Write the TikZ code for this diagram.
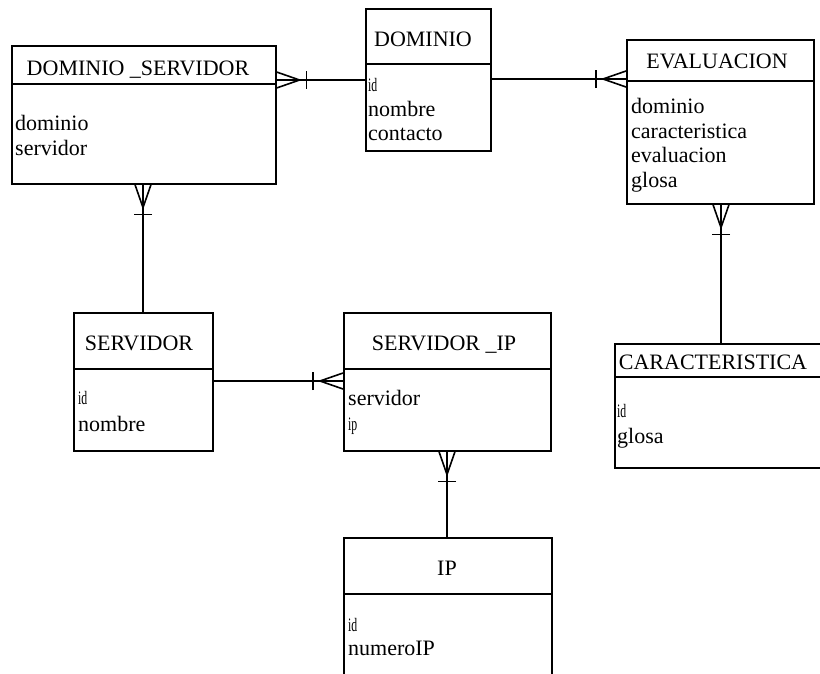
\documentclass[tikz,border=0pt]{standalone}
\usepackage{fontspec}
\setmainfont{Liberation Serif}
\usetikzlibrary{calc}

% condensed key marker used for primary keys
\newcommand{\pkey}[1]{{\fontsize{19}{19}\selectfont\scalebox{0.62}[1]{#1}}}

\tikzset{
  entity/.style={draw, line width=1.6pt, rectangle, anchor=north west, inner sep=0pt},
  rel/.style={line width=1.6pt},
  title/.style={anchor=base, inner sep=0pt, font=\fontsize{22}{22}\selectfont},
  attr/.style={anchor=base west, inner sep=0pt, font=\fontsize{22}{22}\selectfont},
  pics/crowfoot/.style={code={
    \draw[rel] (0,8) -- (23,0) -- (0,-8);
    \draw[rel] (30,-9) -- (30,9);
  }}
}

\begin{document}
\begin{tikzpicture}[x=1pt,y=-1pt]
\useasboundingbox (0,0) rectangle (820,673);
\fill[white] (0,0) rectangle (820,673);

% ---- entity boxes ----
\node[entity, minimum width=264pt, minimum height=138pt] (ds)   at (11,45)   {};
\node[entity, minimum width=125pt, minimum height=142pt] (dom)  at (365,8)   {};
\node[entity, minimum width=187pt, minimum height=164pt] (ev)   at (626,39)  {};
\node[entity, minimum width=139pt, minimum height=138pt] (srv)  at (73,312)  {};
\node[entity, minimum width=207pt, minimum height=138pt] (sip)  at (343,312) {};
\node[entity, minimum width=230pt, minimum height=124pt] (car)  at (614,343) {};
\node[entity, minimum width=208pt, minimum height=160pt] (ip)   at (343,537) {};

% ---- header dividers ----
\draw[rel] ($(ds.north west)+(0,39)$)  -- ($(ds.north east)+(0,39)$);
\draw[rel] ($(dom.north west)+(0,56)$) -- ($(dom.north east)+(0,56)$);
\draw[rel] ($(ev.north west)+(0,42)$)  -- ($(ev.north east)+(0,42)$);
\draw[rel] ($(srv.north west)+(0,57)$) -- ($(srv.north east)+(0,57)$);
\draw[rel] ($(sip.north west)+(0,57)$) -- ($(sip.north east)+(0,57)$);
\draw[rel] ($(car.north west)+(0,34)$) -- ($(car.north east)+(0,34)$);
\draw[rel] ($(ip.north west)+(0,57)$)  -- ($(ip.north east)+(0,57)$);

% ---- titles ----
\node[title] (tds)  at (138,75)  {DOMINIO \_SERVIDOR};
\node[title] (tdom) at (423,46)  {DOMINIO};
\node[title] (tev)  at (717,68)  {EVALUACION};
\node[title] (tsrv) at (139,350) {SERVIDOR};
\node[title] (tsip) at (444,350) {SERVIDOR \_IP};
\node[title] (tcar) at (713,369) {CARACTERISTICA};
\node[title] (tip)  at (447,575) {IP};

% ---- attributes ----
\node[attr] (ds1) at (15,130)  {dominio};
\node[attr] (ds2) at (15,155)  {servidor};

\node[attr] (dm1) at (368,91)  {\pkey{id}};
\node[attr] (dm2) at (368,116) {nombre};
\node[attr] (dm3) at (368,140) {contacto};

\node[attr] (ev1) at (631,113) {dominio};
\node[attr] (ev2) at (631,138) {caracteristica};
\node[attr] (ev3) at (631,162) {evaluacion};
\node[attr] (ev4) at (631,187) {glosa};

\node[attr] (sv1) at (78,404)  {\pkey{id}};
\node[attr] (sv2) at (78,431)  {nombre};

\node[attr] (si1) at (348,405) {servidor};
\node[attr] (si2) at (348,430) {\pkey{ip}};

\node[attr] (ca1) at (617,417) {\pkey{id}};
\node[attr] (ca2) at (617,443) {glosa};

\node[attr] (ip1) at (348,631) {\pkey{id}};
\node[attr] (ip2) at (348,655) {numeroIP};

% ---- relationships ----
% DOMINIO_SERVIDOR >--| DOMINIO
\coordinate (r1) at ($(ds.north east)+(0,35)$);
\draw[rel] (r1) -- (r1 -| dom.west);
\pic at (r1) {crowfoot};

% DOMINIO |--< EVALUACION
\coordinate (r2) at ($(ev.north west)+(0,40)$);
\draw[rel] (r2 -| dom.east) -- (r2);
\pic[rotate=180] at (r2) {crowfoot};

% DOMINIO_SERVIDOR >--| SERVIDOR
\coordinate (r3) at (ds.south -| 143,0);
\draw[rel] (r3) -- (r3 |- srv.north);
\pic[rotate=-90] at (r3) {crowfoot};

% SERVIDOR |--< SERVIDOR_IP
\coordinate (r4) at ($(sip.north west)+(0,69)$);
\draw[rel] (r4 -| srv.east) -- (r4);
\pic[rotate=180] at (r4) {crowfoot};

% EVALUACION >--| CARACTERISTICA
\coordinate (r5) at (ev.south -| 721,0);
\draw[rel] (r5) -- (r5 |- car.north);
\pic[rotate=-90] at (r5) {crowfoot};

% SERVIDOR_IP >--| IP
\coordinate (r6) at (sip.south -| 447,0);
\draw[rel] (r6) -- (r6 |- ip.north);
\pic[rotate=-90] at (r6) {crowfoot};
\end{tikzpicture}
\end{document}
